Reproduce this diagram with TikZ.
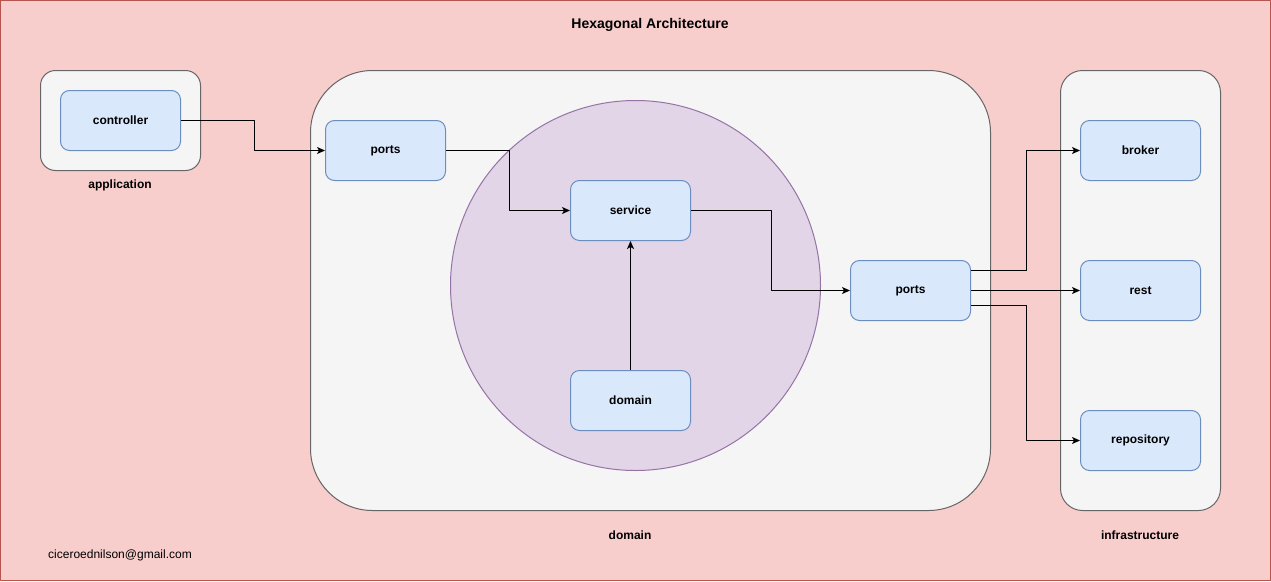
\documentclass[tikz,border=0pt]{standalone}
\usepackage{fontspec}
\setmainfont{Liberation Sans}
\usetikzlibrary{arrows.meta}
\definecolor{pinkfill}{HTML}{F8CECC}
\definecolor{pinkline}{HTML}{B85450}
\definecolor{grayfill}{HTML}{F5F5F5}
\definecolor{grayline}{HTML}{666666}
\definecolor{bluefill}{HTML}{DAE8FC}
\definecolor{blueline}{HTML}{6C8EBF}
\definecolor{purplefill}{HTML}{E1D5E7}
\definecolor{purpleline}{HTML}{9673A6}
\tikzset{
  block/.style={draw=blueline,fill=bluefill,rounded corners=9pt,minimum width=120pt,minimum height=60pt,inner sep=0pt,font=\fontsize{12}{14}\selectfont\bfseries},
  layer/.style={draw=grayline,fill=grayfill,inner sep=0pt},
  caption/.style={inner sep=0pt,font=\fontsize{12}{14}\selectfont\bfseries},
}
\begin{document}
\begin{tikzpicture}[>={Stealth[length=8pt,width=7pt,inset=2pt]},line join=bevel,x=1pt,y=-1pt,line width=1pt]
\useasboundingbox (0,0) rectangle (1271,581);
%% background and layers
\draw [draw=pinkline,fill=pinkfill] (0.5,0.5) rectangle (1270.5,580.5);
\node (node_title) at (650,25) [caption,font=\fontsize{14}{16}\selectfont\bfseries] {Hexagonal Architecture};
\draw [layer,rounded corners=15pt] (40.5,70.5) rectangle (200.5,170.5);
\draw [layer,rounded corners=62pt] (310.5,70.5) rectangle (990.5,510.5);
\draw [layer,rounded corners=22pt] (1060.5,70.5) rectangle (1220.5,510.5);
\draw [draw=purpleline,fill=purplefill] (635.5,285.5) circle (185pt);
\node (node_app) at (120,185) [caption] {application};
\node (node_dom) at (630,535) [caption] {domain};
\node (node_infra) at (1140,535) [caption] {infrastructure};
\node (node_mail) at (120,555) [inner sep=0pt,font=\fontsize{12}{14}\selectfont] {ciceroednilson@gmail.com};
%% nodes
  \node (node_ctrl) at (120.5,120.5) [block] {controller};
  \node (node_portsin) at (385.5,150.5) [block] {ports};
  \node (node_service) at (630.5,210.5) [block] {service};
  \node (node_domain) at (630.5,400.5) [block] {domain};
  \node (node_portsout) at (910.5,290.5) [block] {ports};
  \node (node_broker) at (1140.5,150.5) [block] {broker};
  \node (node_rest) at (1140.5,290.5) [block] {rest};
  \node (node_repo) at (1140.5,440.5) [block] {repository};
%% connectors
  \draw [black,->] (node_ctrl.east) -- ++(73,0) |- (node_portsin.west);
  \draw [black,->] (node_portsin.east) -- ++(63,0) |- (node_service.west);
  \draw [black,->] (node_domain.north) -- (node_service.south);
  \draw [black,->] (node_service.east) -- ++(80,0) |- (node_portsout.west);
  \draw [black,->] ([yshift=20pt]node_portsout.east) -- ++(55,0) |- (node_broker.west);
  \draw [black,->] (node_portsout.east) -- (node_rest.west);
  \draw [black,->] ([yshift=-15pt]node_portsout.east) -- ++(55,0) |- (node_repo.west);
%
\end{tikzpicture}
\end{document}
